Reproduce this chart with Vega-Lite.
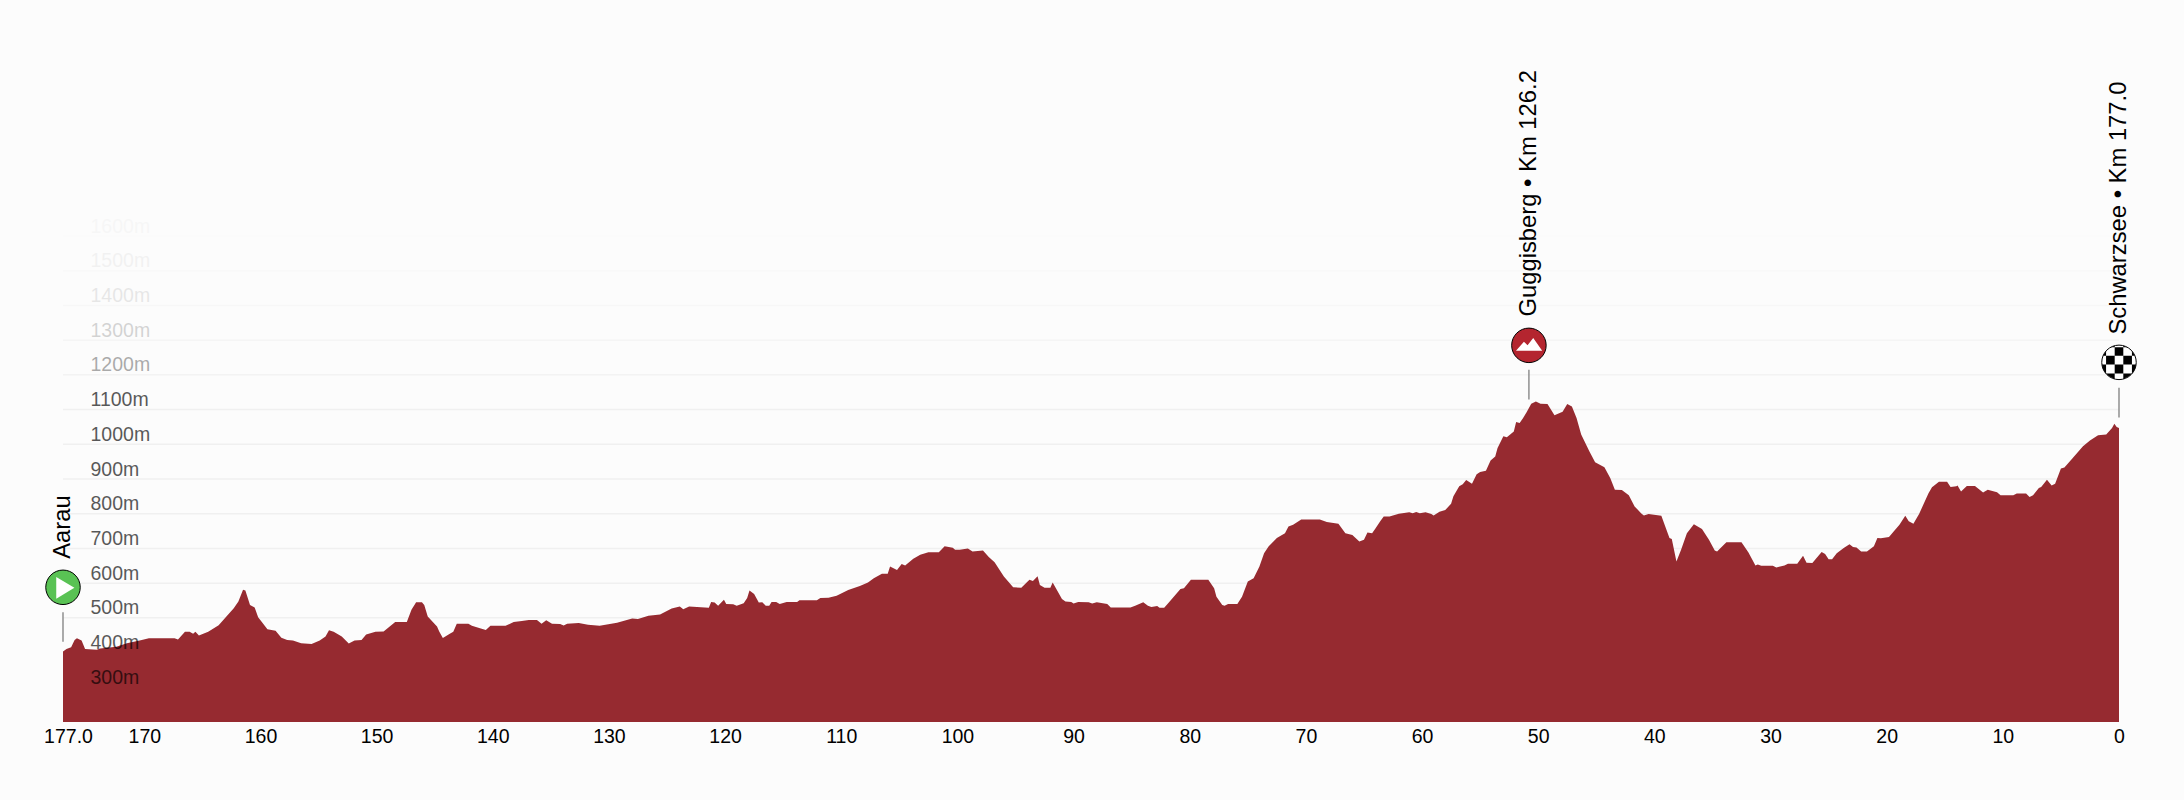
{
  "$schema": "https://vega.github.io/schema/vega-lite/v6.json",
  "description": "Stage profile Aarau to Schwarzsee, elevation against km to go.",
  "width": 2056,
  "height": 486,
  "autosize": "none",
  "padding": {"left": 63, "top": 236, "right": 65, "bottom": 78},
  "background": "#fcfcfc",
  "config": {"view": {"stroke": null}, "font": "Liberation Sans"},
  "datasets": {
    "grid": [
      {"level":300,"from":177,"to":0},{"level":400,"from":177,"to":0},{"level":500,"from":177,"to":0},{"level":600,"from":177,"to":0},{"level":700,"from":177,"to":0},{"level":800,"from":177,"to":0},{"level":900,"from":177,"to":0},{"level":1000,"from":177,"to":0},{"level":1100,"from":177,"to":0},{"level":1200,"from":177,"to":0},{"level":1300,"from":177,"to":0},{"level":1400,"from":177,"to":0},{"level":1500,"from":177,"to":0},{"level":1600,"from":177,"to":0}
    ],
    "profile": [
      {"km":177,"m":403},{"km":176.7,"m":410},{"km":176.3,"m":415},{"km":176,"m":436},{"km":175.8,"m":441},{"km":175.4,"m":435},{"km":175.1,"m":410},{"km":174.1,"m":408},{"km":173.8,"m":412},{"km":172.4,"m":417},{"km":171.5,"m":427},{"km":170.4,"m":435},{"km":169.6,"m":441},{"km":167.4,"m":441},{"km":167.1,"m":438},{"km":166.5,"m":460},{"km":166.1,"m":460},{"km":165.8,"m":454},{"km":165.6,"m":460},{"km":165.3,"m":449},{"km":164.5,"m":460},{"km":163.6,"m":479},{"km":163.2,"m":494},{"km":162.3,"m":528},{"km":161.9,"m":547},{"km":161.5,"m":581},{"km":161.3,"m":579},{"km":160.9,"m":537},{"km":160.5,"m":530},{"km":160.2,"m":502},{"km":159.4,"m":467},{"km":158.7,"m":463},{"km":158.2,"m":443},{"km":157.7,"m":436},{"km":157.2,"m":435},{"km":156.5,"m":427},{"km":155.6,"m":425},{"km":154.9,"m":435},{"km":154.4,"m":446},{"km":154.1,"m":464},{"km":153.7,"m":460},{"km":153,"m":446},{"km":152.4,"m":426},{"km":151.9,"m":435},{"km":151.3,"m":436},{"km":150.9,"m":452},{"km":150.1,"m":460},{"km":149.4,"m":461},{"km":148.4,"m":488},{"km":147.4,"m":488},{"km":147,"m":523},{"km":146.6,"m":545},{"km":146.1,"m":545},{"km":145.9,"m":537},{"km":145.6,"m":504},{"km":144.8,"m":475},{"km":144.6,"m":460},{"km":144.3,"m":442},{"km":143.7,"m":454},{"km":143.4,"m":460},{"km":143.1,"m":483},{"km":142.1,"m":483},{"km":141.8,"m":477},{"km":141.1,"m":470},
      {"km":140.6,"m":465},{"km":140.2,"m":477},{"km":138.9,"m":477},{"km":138.2,"m":488},{"km":137.5,"m":491},{"km":136.9,"m":494},{"km":136.2,"m":494},{"km":135.8,"m":483},{"km":135.4,"m":493},{"km":134.9,"m":483},{"km":134.2,"m":482},{"km":133.9,"m":478},{"km":133.6,"m":483},{"km":132.6,"m":485},{"km":131.8,"m":480},{"km":130.8,"m":477},{"km":129.3,"m":486},{"km":128,"m":498},{"km":127.5,"m":497},{"km":126.6,"m":506},{"km":125.6,"m":510},{"km":124.6,"m":527},{"km":123.9,"m":533},{"km":123.6,"m":525},{"km":123.1,"m":533},{"km":121.4,"m":529},{"km":121.2,"m":546},{"km":120.9,"m":544},{"km":120.6,"m":535},{"km":120.1,"m":552},{"km":119.9,"m":540},{"km":119.3,"m":539},{"km":119,"m":535},{"km":118.4,"m":542},{"km":118.1,"m":557},{"km":117.9,"m":579},{"km":117.5,"m":569},{"km":117.1,"m":544},{"km":116.8,"m":545},{"km":116.5,"m":535},{"km":116.2,"m":535},{"km":116,"m":546},{"km":115.6,"m":546},{"km":115.3,"m":540},{"km":114.7,"m":546},{"km":113.8,"m":546},{"km":113.6,"m":551},{"km":112.1,"m":551},{"km":111.8,"m":557},{"km":111.1,"m":558},{"km":110.4,"m":564},{"km":109.4,"m":580},{"km":108.4,"m":592},{"km":107.7,"m":602},{"km":107.2,"m":614},{"km":106.5,"m":627},{"km":106,"m":627},{"km":105.8,"m":648},{"km":105.2,"m":638},{"km":104.8,"m":655},{"km":104.5,"m":651},{"km":103.8,"m":670},{"km":103.2,"m":682},{"km":102.5,"m":689},{"km":101.6,"m":689},{"km":101.1,"m":706},{"km":100.4,"m":702},{"km":100.2,"m":696},
      {"km":99.8,"m":696},{"km":99.1,"m":700},{"km":98.7,"m":691},{"km":97.8,"m":694},{"km":97.3,"m":675},{"km":96.8,"m":660},{"km":96,"m":619},{"km":95.2,"m":588},{"km":94.5,"m":587},{"km":93.8,"m":610},{"km":93.5,"m":606},{"km":93.1,"m":620},{"km":92.9,"m":595},{"km":92.5,"m":587},{"km":92,"m":587},{"km":91.8,"m":602},{"km":91,"m":554},{"km":90.7,"m":547},{"km":90.2,"m":546},{"km":90,"m":541},{"km":89.6,"m":546},{"km":88.7,"m":545},{"km":88.4,"m":541},{"km":88,"m":545},{"km":87.1,"m":540},{"km":86.8,"m":530},{"km":85.1,"m":530},{"km":84.7,"m":535},{"km":84,"m":545},{"km":83.6,"m":535},{"km":83.3,"m":531},{"km":82.8,"m":534},{"km":82.6,"m":529},{"km":82.2,"m":529},{"km":81.8,"m":544},{"km":80.8,"m":583},{"km":80.5,"m":585},{"km":79.9,"m":610},{"km":78.4,"m":610},{"km":77.9,"m":585},{"km":77.7,"m":561},{"km":77.2,"m":537},{"km":77,"m":535},{"km":76.7,"m":540},{"km":75.9,"m":540},{"km":75.5,"m":561},{"km":75,"m":605},{"km":74.5,"m":614},{"km":74,"m":648},{"km":73.6,"m":686},{"km":73.2,"m":706},{"km":72.5,"m":730},{"km":71.8,"m":744},{"km":71.5,"m":763},{"km":71.1,"m":768},{"km":70.4,"m":783},{"km":68.8,"m":783},{"km":68.2,"m":776},{"km":67.2,"m":771},{"km":66.6,"m":744},{"km":66,"m":739},{"km":65.4,"m":720},{"km":65,"m":725},{"km":64.7,"m":746},{"km":64.3,"m":744},{"km":64,"m":758},
      {"km":63.6,"m":778},{"km":63.3,"m":792},{"km":62.8,"m":792},{"km":62,"m":800},{"km":61.1,"m":804},{"km":60.8,"m":801},{"km":60.5,"m":805},{"km":60.2,"m":801},{"km":59.7,"m":804},{"km":59.2,"m":799},{"km":59,"m":795},{"km":58.5,"m":806},{"km":58,"m":811},{"km":57.5,"m":829},{"km":57.3,"m":850},{"km":56.8,"m":879},{"km":56.5,"m":885},{"km":56.2,"m":897},{"km":55.7,"m":886},{"km":55.3,"m":914},{"km":55,"m":920},{"km":54.5,"m":924},{"km":54.1,"m":953},{"km":53.7,"m":965},{"km":53.5,"m":989},{"km":53,"m":1023},{"km":52.7,"m":1020},{"km":52.1,"m":1037},{"km":51.9,"m":1064},{"km":51.6,"m":1061},{"km":51.3,"m":1076},{"km":51,"m":1092},{"km":50.6,"m":1117},{"km":50.2,"m":1123},{"km":49.8,"m":1117},{"km":49.2,"m":1116},{"km":48.6,"m":1084},{"km":47.9,"m":1094},{"km":47.5,"m":1116},{"km":47.1,"m":1109},{"km":46.7,"m":1076},{"km":46.3,"m":1028},{"km":45.6,"m":980},{"km":45.1,"m":948},{"km":44.3,"m":934},{"km":43.8,"m":903},{"km":43.4,"m":869},{"km":42.8,"m":868},{"km":42.2,"m":853},{"km":41.7,"m":821},{"km":41.1,"m":800},{"km":40.9,"m":795},{"km":40.5,"m":799},{"km":39.4,"m":794},{"km":38.7,"m":730},{"km":38.5,"m":727},{"km":38.1,"m":662},{"km":37.7,"m":696},{"km":37.2,"m":744},{"km":36.6,"m":770},{"km":35.9,"m":756},{"km":35.3,"m":725},{"km":34.8,"m":694},{"km":34.6,"m":691},{"km":33.8,"m":718},{"km":32.5,"m":718},{"km":31.9,"m":688},{"km":31.3,"m":651},{"km":31.1,"m":654},{"km":30.8,"m":650},{"km":29.8,"m":650},{"km":29.5,"m":645},{"km":28.8,"m":651},{"km":28.5,"m":656},{"km":27.7,"m":656},
      {"km":27.2,"m":679},{"km":26.9,"m":659},{"km":26.4,"m":658},{"km":25.6,"m":690},{"km":25.3,"m":684},{"km":25,"m":669},{"km":24.7,"m":669},{"km":24.3,"m":686},{"km":23.7,"m":701},{"km":23.2,"m":712},{"km":22.9,"m":704},{"km":22.6,"m":703},{"km":22.2,"m":691},{"km":21.7,"m":691},{"km":21.1,"m":706},{"km":20.8,"m":730},{"km":20.5,"m":729},{"km":19.8,"m":733},{"km":19.4,"m":749},{"km":18.9,"m":768},{"km":18.4,"m":794},{"km":18.1,"m":778},{"km":17.7,"m":771},{"km":17.2,"m":800},{"km":16.4,"m":859},{"km":16.1,"m":876},{"km":15.5,"m":892},{"km":14.8,"m":892},{"km":14.5,"m":877},{"km":14,"m":879},{"km":13.9,"m":881},{"km":13.6,"m":864},{"km":13.1,"m":880},{"km":12.4,"m":880},{"km":11.7,"m":861},{"km":11.3,"m":869},{"km":10.5,"m":862},{"km":10.2,"m":853},{"km":9.1,"m":853},{"km":8.8,"m":858},{"km":8,"m":858},{"km":7.7,"m":848},{"km":7.4,"m":853},{"km":6.9,"m":874},{"km":6.7,"m":877},{"km":6.2,"m":898},{"km":5.8,"m":881},{"km":5.5,"m":886},{"km":5,"m":930},{"km":4.7,"m":933},{"km":4,"m":960},{"km":3.1,"m":994},{"km":2.5,"m":1011},{"km":1.8,"m":1026},{"km":1.1,"m":1028},{"km":0.6,"m":1047},{"km":0.4,"m":1059},{"km":0.2,"m":1050},{"km":0,"m":1047}
    ],
    "stops": [
      {"kind":"start","label":"Aarau","km":177,"icon":588,"stem_top":516,"stem_bottom":431,"label_at":670},
      {"kind":"climb","label":"Guggisberg • Km 126.2","km":50.8,"icon":1285,"stem_top":1215,"stem_bottom":1129,"label_at":1368},
      {"kind":"finish","label":"Schwarzsee • Km 177.0","km":0,"icon":1236,"stem_top":1163,"stem_bottom":1077,"label_at":1316}
    ]
  },
  "encoding": {
    "x": {
      "field": "km",
      "type": "quantitative",
      "scale": {"domain": [177, 0], "nice": false},
      "axis": {
        "title": null,
        "values": [177, 170, 160, 150, 140, 130, 120, 110, 100, 90, 80, 70, 60, 50, 40, 30, 20, 10, 0],
        "labelExpr": "datum.value == 177 ? '177.0' : datum.value",
        "labelOffset": {"expr": "datum.value == 177 ? 5 : 0"},
        "grid": false,
        "domain": false,
        "ticks": false,
        "labelFont": "Liberation Sans",
        "labelFontSize": 19.5,
        "labelColor": "#000000",
        "labelBaseline": "alphabetic",
        "labelPadding": 20,
        "labelOverlap": false,
        "labelBound": false,
        "labelFlush": false
      }
    }
  },
  "layer": [
    {
      "data": {"name": "grid"},
      "mark": {"type": "rule", "color": "#f0f0f0", "strokeWidth": 1.5},
      "encoding": {
        "x": {"field": "from", "type": "quantitative"},
        "x2": {"field": "to"},
        "y": {"field": "level", "type": "quantitative"},
        "opacity": {
          "field": "level",
          "type": "quantitative",
          "scale": {"domain": [1100, 1200, 1300, 1400, 1500, 1600], "range": [1, 0.8, 0.6, 0.4, 0.25, 0.15], "clamp": true},
          "legend": null
        }
      }
    },
    {
      "data": {"name": "profile"},
      "mark": {"type": "area", "color": "#962a30", "interpolate": "linear"},
      "encoding": {
        "y": {
          "field": "m",
          "type": "quantitative",
          "stack": null,
          "scale": {"domain": [200, 1600], "nice": false, "zero": false},
          "axis": {
            "title": null,
            "values": [300, 400, 500, 600, 700, 800, 900, 1000, 1100, 1200, 1300, 1400, 1500, 1600],
            "tickCount": 20,
            "labelExpr": "datum.value + 'm'",
            "grid": false,
            "domain": false,
            "ticks": false,
            "zindex": 1,
            "labelFont": "Liberation Sans",
            "labelFontSize": 19.5,
            "labelColor": "#000000",
            "labelOpacity": {"expr": "datum.value <= 1100 ? 0.65 : 0.65 * pow(0.5, (datum.value - 1100) / 100)"},
            "labelAlign": "left",
            "labelBaseline": "alphabetic",
            "labelOffset": -4,
            "labelPadding": -27,
            "labelOverlap": false,
            "labelBound": false,
            "labelFlush": false
          }
        }
      }
    },
    {
      "data": {"name": "stops"},
      "mark": {"type": "rule", "color": "#888888", "strokeWidth": 1.4},
      "encoding": {
        "y": {"field": "stem_top", "type": "quantitative"},
        "y2": {"field": "stem_bottom"}
      }
    },
    {
      "data": {"name": "stops"},
      "mark": {"type": "text", "angle": 270, "align": "left", "baseline": "middle", "font": "Liberation Sans", "fontSize": 23.8, "color": "#000000"},
      "encoding": {
        "y": {"field": "label_at", "type": "quantitative"},
        "text": {"field": "label"}
      }
    },
    {
      "data": {"name": "stops"},
      "transform": [{"filter": "datum.kind == 'start'"}],
      "mark": {"type": "point", "shape": "circle", "filled": true, "size": 1190, "fill": "#59c254", "stroke": "#000000", "strokeWidth": 1, "opacity": 1},
      "encoding": {"y": {"field": "icon", "type": "quantitative"}}
    },
    {
      "data": {"name": "stops"},
      "transform": [{"filter": "datum.kind == 'start'"}],
      "mark": {"type": "point", "shape": "M-0.39,-0.6L0.66,0.03L-0.39,0.66Z", "filled": true, "size": 1190, "fill": "#ffffff", "strokeWidth": 0, "opacity": 1},
      "encoding": {"y": {"field": "icon", "type": "quantitative"}}
    },
    {
      "data": {"name": "stops"},
      "transform": [{"filter": "datum.kind == 'climb'"}],
      "mark": {"type": "point", "shape": "circle", "filled": true, "size": 1190, "fill": "#b4252f", "stroke": "#000000", "strokeWidth": 1, "opacity": 1},
      "encoding": {"y": {"field": "icon", "type": "quantitative"}}
    },
    {
      "data": {"name": "stops"},
      "transform": [{"filter": "datum.kind == 'climb'"}],
      "mark": {"type": "point", "shape": "M-0.75,0.31L-0.29,-0.21L-0.08,0L0.25,-0.42L0.77,0.31Z", "filled": true, "size": 1190, "fill": "#ffffff", "strokeWidth": 0, "opacity": 1},
      "encoding": {"y": {"field": "icon", "type": "quantitative"}}
    },
    {
      "data": {"name": "stops"},
      "transform": [{"filter": "datum.kind == 'finish'"}],
      "mark": {"type": "point", "shape": "circle", "filled": true, "size": 1190, "fill": "#ffffff", "stroke": "#000000", "strokeWidth": 1, "opacity": 1},
      "encoding": {"y": {"field": "icon", "type": "quantitative"}}
    },
    {
      "data": {"name": "stops"},
      "transform": [{"filter": "datum.kind == 'finish'"}],
      "mark": {"type": "point", "shape": "M-0.25,-0.88L0.25,-0.88L0.25,-0.38L-0.25,-0.38ZM0.75,-0.66L0.925,-0.38L0.75,-0.38ZM-0.75,-0.66L-0.925,-0.38L-0.75,-0.38ZM-0.75,-0.38L-0.25,-0.38L-0.25,0.13L-0.75,0.13ZM0.25,-0.38L0.75,-0.38L0.75,0.13L0.25,0.13ZM-0.25,0.13L0.25,0.13L0.25,0.65L-0.25,0.65ZM0.75,0.13L0.99,0.13L0.93,0.38L0.76,0.65L0.75,0.65ZM-0.75,0.13L-0.99,0.13L-0.93,0.38L-0.76,0.65L-0.75,0.65ZM0.25,0.65L0.75,0.65L0.58,0.81L0.25,0.97ZM-0.25,0.65L-0.75,0.65L-0.58,0.81L-0.25,0.97ZM0.25,-0.97L0.47,-0.88L0.25,-0.88ZM-0.25,-0.97L-0.47,-0.88L-0.25,-0.88Z", "filled": true, "size": 1190, "fill": "#000000", "strokeWidth": 0, "opacity": 1},
      "encoding": {"y": {"field": "icon", "type": "quantitative"}}
    }
  ]
}
